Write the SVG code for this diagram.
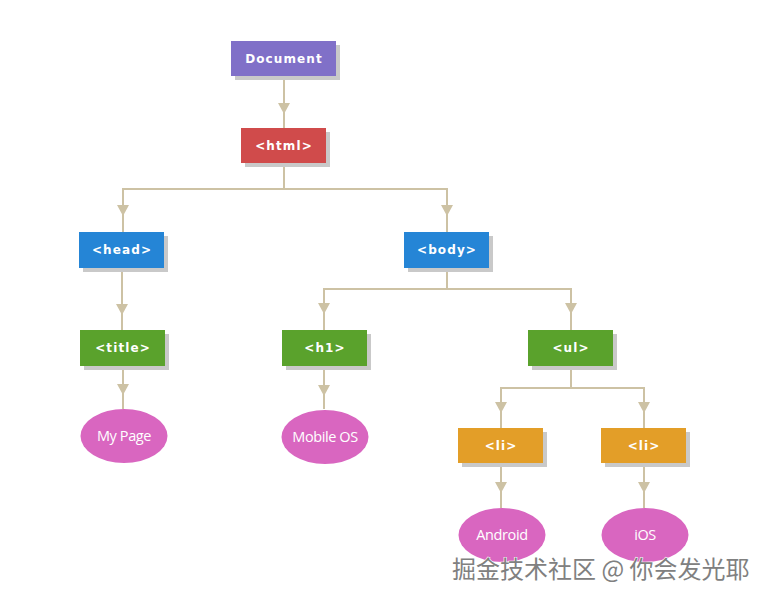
<svg xmlns="http://www.w3.org/2000/svg" width="768" height="600" viewBox="0 0 768 600">
<style>
.sh{fill:#c9c9c9}
.box text{fill:#fff;font-family:"DejaVu Sans",Verdana,sans-serif;font-weight:bold;font-size:12px;letter-spacing:1.1px;text-anchor:middle}
.el{fill:#d966c0}
.leaf text{fill:#fff;font-family:"Open Sans","Noto Sans",sans-serif;font-size:14.5px;text-anchor:middle;letter-spacing:-0.4px}
.ln{fill:none;stroke:#cdc2a4;stroke-width:2}
.ah{fill:#cdc2a4}
.wm{font-family:"Noto Sans CJK SC",sans-serif;font-size:24px;fill:#808080;stroke:#ffffff;stroke-width:1.2px;paint-order:stroke}
</style>
<rect width="768" height="600" fill="#fff"/>
<g id="connectors">
<path class="ln" d="M284 77V128"/>
<path class="ln" d="M284 163V189H123V232M284 189H447V232"/>
<path class="ln" d="M122 268V330"/>
<path class="ln" d="M123 366V409"/>
<path class="ln" d="M447 268V289H324V330M447 289H571V330"/>
<path class="ln" d="M324 366V409"/>
<path class="ln" d="M571 366V388H501V428M571 388H644V428"/>
<path class="ln" d="M501 463V508"/>
<path class="ln" d="M644 463V508"/>
<polygon class="ah" points="278,103 290,103 284,114"/>
<polygon class="ah" points="117,205 129,205 123,216"/>
<polygon class="ah" points="441,205 453,205 447,216"/>
<polygon class="ah" points="116,304 128,304 122,315"/>
<polygon class="ah" points="117,384 129,384 123,395"/>
<polygon class="ah" points="318,303 330,303 324,314"/>
<polygon class="ah" points="565,303 577,303 571,314"/>
<polygon class="ah" points="318,385 330,385 324,396"/>
<polygon class="ah" points="495,402 507,402 501,413"/>
<polygon class="ah" points="638,402 650,402 644,413"/>
<polygon class="ah" points="495,482 507,482 501,493"/>
<polygon class="ah" points="638,482 650,482 644,493"/>
</g>
<g id="document" class="box"><rect class="sh" x="235" y="45" width="105" height="35"/><rect x="231" y="41" width="105" height="35" fill="#8070c8"/><text x="284" y="63">Document</text></g>
<g id="html" class="box"><rect class="sh" x="245" y="132" width="85" height="35"/><rect x="241" y="128" width="85" height="35" fill="#d04b4b"/><text x="284" y="150">&lt;html&gt;</text></g>
<g id="head" class="box"><rect class="sh" x="83" y="236" width="85" height="36"/><rect x="79" y="232" width="85" height="36" fill="#2585d6"/><text x="122" y="254">&lt;head&gt;</text></g>
<g id="body" class="box"><rect class="sh" x="408" y="236" width="85" height="36"/><rect x="404" y="232" width="85" height="36" fill="#2585d6"/><text x="447" y="254">&lt;body&gt;</text></g>
<g id="title" class="box"><rect class="sh" x="84" y="334" width="85" height="36"/><rect x="80" y="330" width="85" height="36" fill="#5aa22c"/><text x="123" y="352">&lt;title&gt;</text></g>
<g id="h1" class="box"><rect class="sh" x="286" y="334" width="85" height="36"/><rect x="282" y="330" width="85" height="36" fill="#5aa22c"/><text x="325" y="352">&lt;h1&gt;</text></g>
<g id="ul" class="box"><rect class="sh" x="532" y="334" width="85" height="36"/><rect x="528" y="330" width="85" height="36" fill="#5aa22c"/><text x="571" y="352">&lt;ul&gt;</text></g>
<g id="li1" class="box"><rect class="sh" x="462" y="432" width="85" height="35"/><rect x="458" y="428" width="85" height="35" fill="#e39e28"/><text x="501" y="450">&lt;li&gt;</text></g>
<g id="li2" class="box"><rect class="sh" x="605" y="432" width="85" height="35"/><rect x="601" y="428" width="85" height="35" fill="#e39e28"/><text x="644" y="450">&lt;li&gt;</text></g>
<g id="mypage" class="leaf"><ellipse class="el" cx="124" cy="436" rx="43.5" ry="27"/><text x="124" y="441">My Page</text></g>
<g id="mobileos" class="leaf"><ellipse class="el" cx="325" cy="437" rx="43.5" ry="27"/><text x="325" y="442">Mobile OS</text></g>
<g id="android" class="leaf"><ellipse class="el" cx="502" cy="535" rx="43.5" ry="27"/><text x="502" y="540">Android</text></g>
<g id="ios" class="leaf"><ellipse class="el" cx="645" cy="535" rx="43.5" ry="27"/><text x="645" y="540">iOS</text></g>
<text class="wm" x="452" y="578">掘金技术社区 @ 你会发光耶</text>
</svg>
